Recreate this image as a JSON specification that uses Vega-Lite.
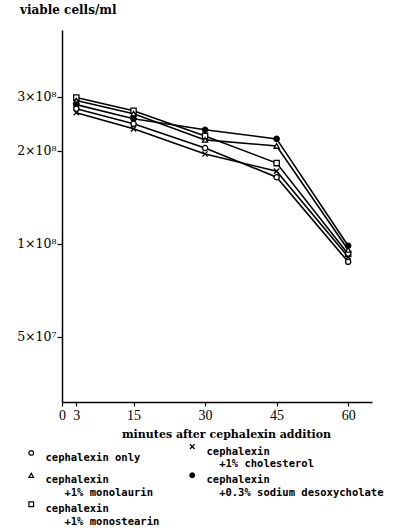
{
  "$schema": "https://vega.github.io/schema/vega-lite/v6.json",
  "autosize": "none",
  "width": 310,
  "height": 372,
  "padding": {"left": 62, "top": 30, "right": 44, "bottom": 129},
  "background": "white",
  "title": {"text": "viable cells/ml", "anchor": "start", "frame": "group", "dx": -42, "offset": 13, "font": "DejaVu Serif", "fontSize": 12, "fontWeight": "bold", "color": "black"},
  "config": {"view": {"stroke": null}},
  "data": {"values": [
    {"series": "cephalexin +1% monostearin", "minutes": 3, "cells": 2.977e8},
    {"series": "cephalexin +1% monostearin", "minutes": 15, "cells": 2.700e8},
    {"series": "cephalexin +1% monostearin", "minutes": 30, "cells": 2.237e8},
    {"series": "cephalexin +1% monostearin", "minutes": 45, "cells": 1.826e8},
    {"series": "cephalexin +1% monostearin", "minutes": 60, "cells": 9.27e7},
    {"series": "cephalexin +1% monolaurin", "minutes": 3, "cells": 2.911e8},
    {"series": "cephalexin +1% monolaurin", "minutes": 15, "cells": 2.640e8},
    {"series": "cephalexin +1% monolaurin", "minutes": 30, "cells": 2.171e8},
    {"series": "cephalexin +1% monolaurin", "minutes": 45, "cells": 2.075e8},
    {"series": "cephalexin +1% monolaurin", "minutes": 60, "cells": 9.56e7},
    {"series": "cephalexin +0.3% sodium desoxycholate", "minutes": 3, "cells": 2.825e8},
    {"series": "cephalexin +0.3% sodium desoxycholate", "minutes": 15, "cells": 2.542e8},
    {"series": "cephalexin +0.3% sodium desoxycholate", "minutes": 30, "cells": 2.341e8},
    {"series": "cephalexin +0.3% sodium desoxycholate", "minutes": 45, "cells": 2.187e8},
    {"series": "cephalexin +0.3% sodium desoxycholate", "minutes": 60, "cells": 9.85e7},
    {"series": "cephalexin only", "minutes": 3, "cells": 2.741e8},
    {"series": "cephalexin only", "minutes": 15, "cells": 2.449e8},
    {"series": "cephalexin only", "minutes": 30, "cells": 2.044e8},
    {"series": "cephalexin only", "minutes": 45, "cells": 1.643e8},
    {"series": "cephalexin only", "minutes": 60, "cells": 8.74e7},
    {"series": "cephalexin +1% cholesterol", "minutes": 3, "cells": 2.660e8},
    {"series": "cephalexin +1% cholesterol", "minutes": 15, "cells": 2.358e8},
    {"series": "cephalexin +1% cholesterol", "minutes": 30, "cells": 1.954e8},
    {"series": "cephalexin +1% cholesterol", "minutes": 45, "cells": 1.719e8},
    {"series": "cephalexin +1% cholesterol", "minutes": 60, "cells": 9.07e7}
  ]},
  "encoding": {
    "x": {"field": "minutes", "type": "quantitative",
      "scale": {"domain": [0, 65], "nice": false, "zero": false},
      "axis": {"values": [0, 3, 15, 30, 45, 60], "title": "minutes after cephalexin addition", "grid": false,
        "domainColor": "black", "domainWidth": 1.5, "tickColor": "black", "tickSize": 4, "tickWidth": 1.2,
        "labelFont": "Liberation Serif", "labelFontSize": 14, "labelColor": "black", "labelPadding": 2, "labelFlush": false,
        "titleFont": "DejaVu Serif", "titleFontSize": 11, "titleFontWeight": "bold", "titleColor": "black", "titlePadding": 6, "titleX": 164}},
    "y": {"field": "cells", "type": "quantitative",
      "scale": {"type": "log", "domain": [3.07e7, 4.93e8], "nice": false},
      "axis": {"values": [5e7, 1e8, 2e8, 3e8], "title": null, "grid": false,
        "labelExpr": "datum.value == 3e8 ? '3×10⁸' : datum.value == 2e8 ? '2×10⁸' : datum.value == 1e8 ? '1×10⁸' : '5×10⁷'",
        "domainColor": "black", "domainWidth": 1.5, "tickColor": "black", "tickSize": 5, "tickWidth": 1.2,
        "labelFont": "DejaVu Serif", "labelFontSize": 12.5, "labelColor": "black", "labelPadding": 1}}
  },
  "layer": [
    {"mark": {"type": "line", "color": "black", "strokeWidth": 1.6},
     "encoding": {"detail": {"field": "series"}}},
    {"mark": {"type": "point", "filled": false, "stroke": "black", "strokeWidth": 1.3, "opacity": 1, "size": 28},
     "encoding": {
       "shape": {"field": "series", "type": "nominal",
         "scale": {"domain": ["cephalexin only", "cephalexin +1% monolaurin", "cephalexin +1% monostearin", "cephalexin +1% cholesterol", "cephalexin +0.3% sodium desoxycholate"],
                   "range": ["circle", "triangle-up", "square", "M-1,-1L1,1M1,-1L-1,1", "circle"]}},
       "fill": {"field": "series", "type": "nominal",
         "scale": {"domain": ["cephalexin only", "cephalexin +1% monolaurin", "cephalexin +1% monostearin", "cephalexin +1% cholesterol", "cephalexin +0.3% sodium desoxycholate"],
                   "range": ["white", "white", "white", "white", "black"]},
         "legend": {"title": null, "orient": "none", "legendX": -36, "legendY": 411, "columns": 2, "padding": 0,
           "columnPadding": 27, "rowPadding": 0, "symbolSize": 22, "symbolStrokeColor": "black", "symbolStrokeWidth": 1.2,
           "labelFont": "DejaVu Sans Mono", "labelFontSize": 10.5, "labelFontWeight": "bold", "labelColor": "black",
           "labelLimit": 300, "labelOffset": 9, "labelBaseline": "top",
           "labelExpr": "split(replace(datum.label, ' +', test(/mono/, datum.label) ? '|\u200b\u00a0\u00a0\u00a0+' : '|\u200b\u00a0\u00a0+'), '|')",
           "encode": {"labels": {"update": {"dy": {"value": -6}, "lineHeight": {"value": 12}}}}}}
     }}
  ]
}
